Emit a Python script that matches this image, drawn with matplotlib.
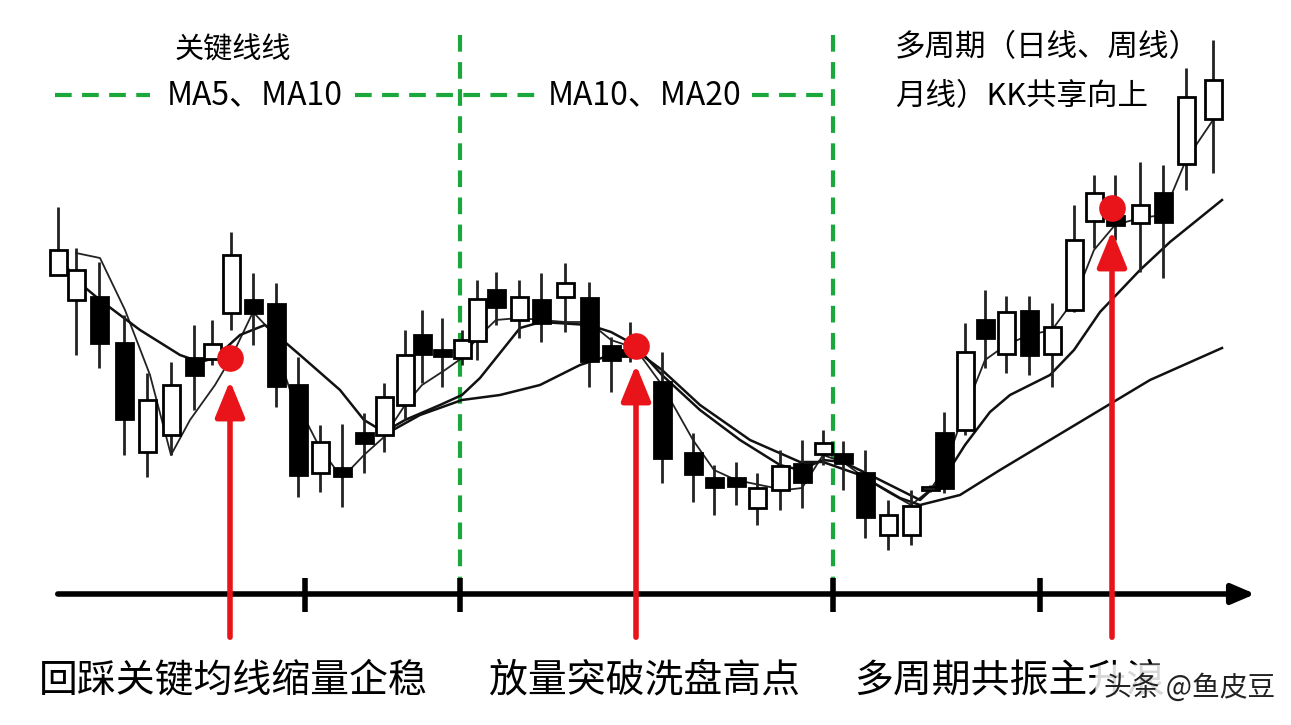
import matplotlib
matplotlib.use("Agg")
import matplotlib.pyplot as plt
import numpy as np

plt.rcParams['font.family'] = ['Noto Sans CJK SC', 'DejaVu Sans']

# candle data in picture units (y grows downward): x, open, close, high, low
cx = [58, 76, 99, 124, 147, 171, 194, 212, 231, 253, 276, 298, 320, 342, 364, 384, 405, 422, 442, 462,
      477, 496, 519, 541, 565, 589, 611, 630, 662, 693, 714, 736, 757, 780, 802, 823, 843,
      865, 888, 911, 930, 944, 965, 985, 1006, 1029, 1052, 1074, 1094, 1115, 1140, 1163, 1186, 1213]
c_open = [275, 300, 297, 343, 452, 435, 358, 359, 313, 300, 304, 385, 473, 468, 433, 435, 405, 335, 350, 358,
          341, 290, 320, 300, 297, 298, 346, 350, 382, 453, 478, 478, 508, 490, 464, 454, 454,
          473, 535, 535, 489, 433, 430, 320, 354, 311, 354, 310, 221, 216, 223, 193, 164, 119]
c_close = [250, 270, 343, 419, 400, 385, 375, 344, 255, 313, 386, 475, 442, 476, 443, 397, 355, 354, 356, 340,
           299, 307, 297, 323, 283, 361, 360, 356, 458, 474, 487, 486, 488, 466, 482, 443, 463,
           517, 515, 506, 487, 488, 352, 338, 312, 355, 327, 240, 193, 225, 205, 222, 97, 80]
c_high = [207, 248, 262, 315, 373, 362, 325, 320, 232, 273, 283, 357, 425, 424, 413, 383, 330, 310, 318, 330,
          280, 272, 280, 273, 263, 282, 337, 322, 352, 433, 465, 462, 473, 450, 440, 430, 441,
          450, 500, 490, 485, 412, 323, 290, 296, 296, 303, 205, 175, 175, 162, 165, 68, 40]
c_low = [275, 355, 368, 455, 477, 455, 410, 365, 330, 345, 407, 497, 492, 507, 473, 452, 420, 383, 387, 365,
         360, 325, 338, 342, 332, 387, 392, 362, 483, 502, 515, 505, 525, 510, 508, 465, 490,
         538, 550, 545, 492, 493, 435, 368, 373, 375, 387, 312, 248, 240, 272, 278, 190, 173]

ma5_x = [76, 100, 125, 150, 171, 190, 215, 231, 253, 270, 290, 320, 342, 364, 384, 405, 422, 445, 462, 477, 496,
         519, 541, 565, 589, 611, 635, 662, 693, 714, 736, 760, 785, 802, 823, 843, 865, 888, 911, 930, 944,
         965, 985, 1006, 1029, 1052, 1074, 1094, 1115, 1140, 1163, 1186, 1213]
ma5_y = [253, 258, 310, 375, 455, 420, 385, 358, 312, 330, 390, 448, 478, 455, 437, 405, 385, 370, 358, 338, 320,
         318, 320, 322, 322, 340, 348, 385, 440, 470, 480, 485, 490, 488, 455, 462, 478, 492, 505, 490, 470,
         410, 360, 345, 335, 330, 300, 250, 225, 218, 215, 160, 120]
ma10_x = [58, 76, 100, 140, 180, 200, 215, 240, 265, 300, 340, 364, 384, 405, 440, 462, 480, 520, 541, 589,
          611, 635, 662, 700, 740, 780, 800, 823, 843, 870, 900, 920, 944, 965, 990, 1010, 1050, 1074, 1100,
          1140, 1170, 1222]
ma10_y = [255, 280, 300, 330, 355, 362, 358, 335, 325, 355, 390, 420, 432, 420, 405, 395, 378, 328, 322, 325,
          332, 345, 375, 410, 440, 465, 470, 460, 462, 475, 490, 500, 478, 445, 412, 395, 375, 350, 312,
          270, 242, 200]
ma20_x = [384, 420, 462, 500, 540, 580, 611, 635, 662, 700, 750, 800, 823, 860, 900, 920, 960, 1000, 1050,
          1100, 1150, 1222]
ma20_y = [435, 415, 400, 395, 385, 365, 355, 350, 370, 405, 440, 462, 462, 475, 498, 505, 495, 470, 440,
          410, 380, 348]

arrow_x = [230, 636, 1112]
arrow_tip = [378, 362, 228]
dot_y = [358, 346, 208]
tick_x = [305, 460, 833, 1040]
zone_x = [460, 833]
bottom_labels = ["回踩关键均线缩量企稳", "放量突破洗盘高点", "多周期共振主升浪"]
bottom_pos = [233, 645, 1010]

fig = plt.figure(figsize=(12.91, 7.25), dpi=100)
ax = fig.add_axes([0, 0, 1, 1])
ax.set_xlim(0, 1291)
ax.set_ylim(725, 0)
ax.axis("off")

# moving averages
ax.plot(ma5_x, ma5_y, color="#222", lw=1.3, zorder=2)
ax.plot(ma10_x, ma10_y, color="#111", lw=1.8, zorder=2)
ax.plot(ma20_x, ma20_y, color="#111", lw=1.8, zorder=2)

# candles
o = np.array(c_open); c = np.array(c_close)
ax.vlines(cx, c_high, c_low, color="#222", lw=2, zorder=3)
up = c < o
top = np.minimum(o, c); h = np.maximum(np.abs(o - c), 3)
ax.bar(cx, h, bottom=top, width=17, color=np.where(up, "white", "black"),
       edgecolor="black", linewidth=2, zorder=4)

# green zone separators and key-line label
for x in zone_x:
    ax.plot([x, x], [35, 592], color="#1aa83c", lw=3, ls=(0, (4, 2.5)), zorder=1)
for x0, x1 in [(55, 150), (355, 540), (752, 833)]:
    ax.plot([x0, x1], [95, 95], color="#1aa83c", lw=3, ls=(0, (4, 2.5)))
ax.text(233, 50, "关键线线", fontsize=21, ha="center", va="center")
ax.text(255, 95, "MA5、MA10", fontsize=23, ha="center", va="center")
ax.text(645, 95, "MA10、MA20", fontsize=23, ha="center", va="center")
ax.text(895, 48, "多周期（日线、周线）", fontsize=22, ha="left", va="center")
ax.text(895, 97, "月线）KK共享向上", fontsize=22, ha="left", va="center")

# time axis
ax.annotate("", xy=(1258, 594), xytext=(55, 594),
            arrowprops=dict(arrowstyle="-|>,head_length=1.4,head_width=0.6", lw=4, color="black"))
ax.vlines(tick_x, 578, 612, color="black", lw=4)

# red arrows and dots
for x, t, d in zip(arrow_x, arrow_tip, dot_y):
    ax.annotate("", xy=(x, t), xytext=(x, 640),
                arrowprops=dict(arrowstyle="-|>,head_length=2.2,head_width=0.9", lw=4, color="#e8141a"),
                zorder=5)
    ax.scatter([x], [d], s=330, color="#e8141a", zorder=6)

for s, x in zip(bottom_labels, bottom_pos):
    ax.text(x, 680, s, fontsize=28, ha="center", va="center")

ax.text(1275, 688, "头条 @鱼皮豆", fontsize=20, ha="right", va="center", color="#222",
        bbox=dict(boxstyle="round,pad=0.3", fc="white", ec="none", alpha=0.85), zorder=7)

fig.savefig("out.png", dpi=100)
